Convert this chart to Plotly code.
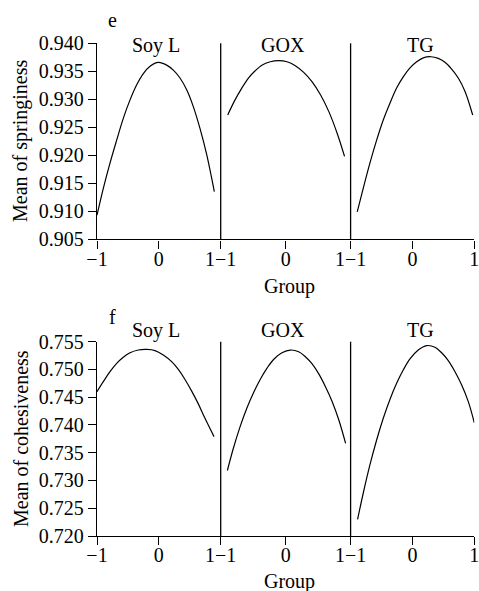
import plotly.graph_objects as go

W, H = 479, 591

groups = ["Soy L", "GOX", "TG"]

# Springiness (panel e): group coordinate and mean values
spr_soy_x = [-1.0, -0.898, -0.790, -0.682, -0.575, -0.466, -0.358, -0.251, -0.143, -0.009,
             0.127, 0.234, 0.342, 0.450, 0.557, 0.665, 0.774, 0.897]
spr_soy_y = [0.9093, 0.9141, 0.9186, 0.9227, 0.9266, 0.9299, 0.9326, 0.9346, 0.9359, 0.9366,
             0.9361, 0.9352, 0.9338, 0.9317, 0.9287, 0.9248, 0.9201, 0.9135]
spr_gox_x = [-0.892, -0.779, -0.675, -0.573, -0.469, -0.366, -0.237, -0.109, 0.021, 0.149,
             0.278, 0.408, 0.536, 0.665, 0.794, 0.907]
spr_gox_y = [0.9272, 0.9299, 0.9320, 0.9338, 0.9351, 0.9361, 0.9367, 0.9369, 0.9367, 0.9360,
             0.9348, 0.9331, 0.9308, 0.9278, 0.9239, 0.9198]
spr_tg_x = [-0.893, -0.796, -0.688, -0.579, -0.472, -0.364, -0.256, -0.149, -0.040, 0.068,
            0.175, 0.299, 0.417, 0.526, 0.634, 0.741, 0.850, 0.974]
spr_tg_y = [0.9099, 0.9141, 0.9186, 0.9227, 0.9263, 0.9293, 0.9320, 0.9340, 0.9356, 0.9367,
            0.9374, 0.9376, 0.9373, 0.9366, 0.9354, 0.9338, 0.9314, 0.9272]

# Cohesiveness (panel f)
coh_soy_x = [-1.0, -0.898, -0.790, -0.682, -0.575, -0.466, -0.332, -0.196, -0.062, 0.072,
             0.207, 0.315, 0.423, 0.531, 0.638, 0.746, 0.892]
coh_soy_y = [0.7460, 0.7478, 0.7496, 0.7511, 0.7522, 0.7530, 0.7535, 0.7536, 0.7534, 0.7526,
             0.7514, 0.7500, 0.7482, 0.7461, 0.7438, 0.7412, 0.7379]
coh_gox_x = [-0.897, -0.805, -0.701, -0.598, -0.495, -0.392, -0.289, -0.186, -0.057, 0.072,
             0.200, 0.304, 0.408, 0.510, 0.613, 0.717, 0.819, 0.923]
coh_gox_y = [0.7318, 0.7358, 0.7397, 0.7430, 0.7458, 0.7482, 0.7502, 0.7518, 0.7530, 0.7535,
             0.7532, 0.7523, 0.7510, 0.7492, 0.7469, 0.7442, 0.7409, 0.7367]
coh_tg_x = [-0.887, -0.796, -0.688, -0.579, -0.472, -0.364, -0.256, -0.149, -0.040, 0.094,
            0.230, 0.364, 0.472, 0.579, 0.688, 0.796, 0.903, 1.0]
coh_tg_y = [0.7230, 0.7277, 0.7328, 0.7373, 0.7412, 0.7446, 0.7475, 0.7499, 0.7519, 0.7535,
            0.7543, 0.7540, 0.7530, 0.7516, 0.7496, 0.7472, 0.7442, 0.7404]

spr_ticks = [0.905, 0.910, 0.915, 0.920, 0.925, 0.930, 0.935, 0.940]
coh_ticks = [0.720, 0.725, 0.730, 0.735, 0.740, 0.745, 0.750, 0.755]
x_ticks = [-1, 0, 1]
x_ticktext = [["−1", "0", "1−1"], ["", "0", "1−1"], ["", "0", "1"]]

FONT = "Liberation Serif, Times New Roman, serif"
FS = 20

def px(x):
    return x / W

def py(y):
    return 1 - y / H

fig = go.Figure()

series = [
    (spr_soy_x, spr_soy_y, "x", "y"),
    (spr_gox_x, spr_gox_y, "x2", "y"),
    (spr_tg_x, spr_tg_y, "x3", "y"),
    (coh_soy_x, coh_soy_y, "x4", "y2"),
    (coh_gox_x, coh_gox_y, "x5", "y2"),
    (coh_tg_x, coh_tg_y, "x6", "y2"),
]
for xs, ys, xa, ya in series:
    fig.add_trace(go.Scatter(x=xs, y=ys, xaxis=xa, yaxis=ya, mode="lines",
                             line=dict(color="black", width=1.2, shape="spline"),
                             showlegend=False, hoverinfo="skip"))

sec_px = [(97, 220.7), (220.7, 350.6), (350.6, 474.3)]
top_dom = [py(239.3), py(43.3)]
bot_dom = [py(536.0), py(341.7)]

axis_common = dict(showline=True, linecolor="black", linewidth=1.4, ticks="outside",
                   ticklen=8, tickwidth=1.4, tickcolor="black", showgrid=False, zeroline=False,
                   automargin=False, ticklabeloverflow="allow",
                   tickfont=dict(family=FONT, size=FS, color="black"))

layout = dict(template="none", width=W, height=H, margin=dict(l=0, r=0, t=0, b=0, pad=0),
              paper_bgcolor="white", plot_bgcolor="white", showlegend=False)

names = ["xaxis", "xaxis2", "xaxis3", "xaxis4", "xaxis5", "xaxis6"]
for i, nm in enumerate(names):
    s = i % 3
    layout[nm] = dict(domain=[px(sec_px[s][0]), px(sec_px[s][1])], range=[-1, 1],
                      anchor="y" if i < 3 else "y2", tickmode="array", tickvals=x_ticks,
                      ticktext=x_ticktext[s], ticklabelstandoff=-7, **axis_common)

layout["yaxis"] = dict(domain=top_dom, range=[0.905, 0.940], anchor="x", tickmode="array",
                       tickvals=spr_ticks, tickformat=".3f", **axis_common)
layout["yaxis2"] = dict(domain=bot_dom, range=[0.720, 0.755], anchor="x4", tickmode="array",
                        tickvals=coh_ticks, tickformat=".3f", **axis_common)
fig.update_layout(**layout)

# section separators
for xr, yr in [("x2", "y"), ("x3", "y"), ("x5", "y2"), ("x6", "y2")]:
    fig.add_shape(type="line", xref=xr + " domain", yref=yr + " domain",
                  x0=0, x1=0, y0=0, y1=1, line=dict(color="black", width=1.3))

def ann(text, x, y, angle=0):
    fig.add_annotation(text=text, x=px(x), y=py(y), xref="paper", yref="paper",
                       showarrow=False, xanchor="center", yanchor="middle", textangle=angle,
                       font=dict(family=FONT, size=FS, color="black"))

ann("e", 112, 20)
ann("f", 112, 317)
for g, cx in zip(groups, [156, 283, 420]):
    ann(g, cx, 45)
    ann(g, cx, 330)
ann("Group", 289, 286)
ann("Group", 289, 581)
ann("Mean of springiness", 21, 141, -90)
ann("Mean of cohesiveness", 21, 439, -90)

fig.write_html(
    "out.html",
    config={"displayModeBar": False},
    post_script=("document.body.style.margin='0';"
                 "document.body.style.overflow='hidden';"
                 "document.documentElement.style.overflow='hidden';"),
)
